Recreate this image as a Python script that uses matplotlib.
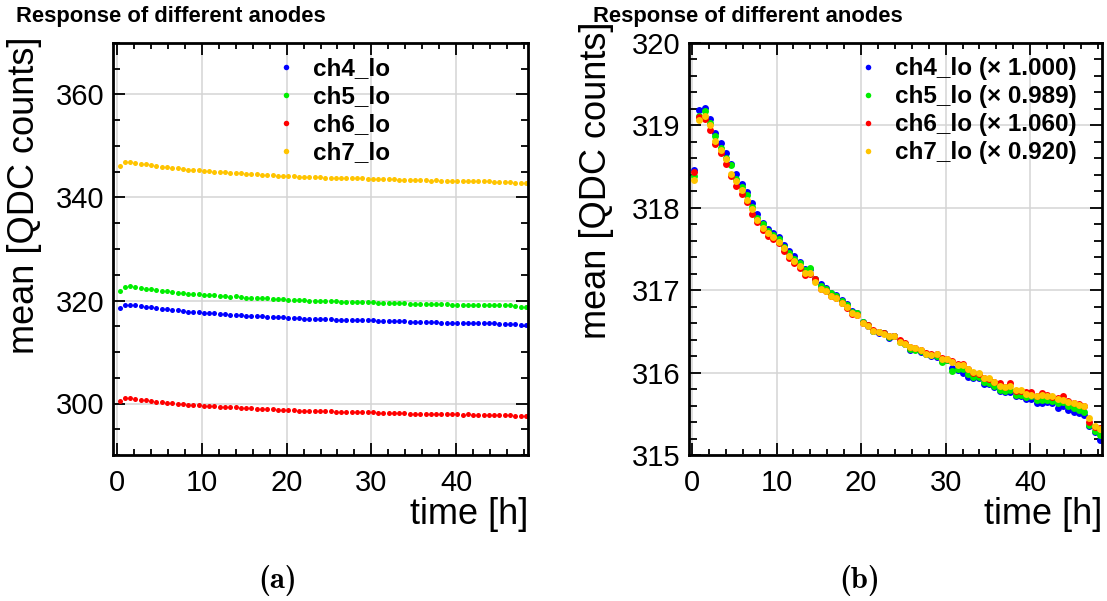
import matplotlib
matplotlib.use("Agg")
import numpy as np
import matplotlib.pyplot as plt
from matplotlib.ticker import MultipleLocator, FormatStrFormatter

plt.rcParams['font.family'] = ['Liberation Sans', 'DejaVu Sans']

# Run times [h]
time_h = [0.27, 0.89, 1.52, 2.14, 2.76, 3.39, 4.01, 4.63, 5.25, 5.88,
          6.50, 7.12, 7.75, 8.37, 8.99, 9.62, 10.24, 10.86, 11.48, 12.11,
          12.73, 13.35, 13.98, 14.60, 15.22, 15.85, 16.47, 17.09, 17.71, 18.34,
          18.96, 19.58, 20.21, 20.83, 21.45, 22.08, 22.70, 23.32, 23.94, 24.57,
          25.19, 25.81, 26.44, 27.06, 27.68, 28.31, 28.93, 29.55, 30.17, 30.80,
          31.42, 32.04, 32.67, 33.29, 33.91, 34.54, 35.16, 35.78, 36.40, 37.03,
          37.65, 38.27, 38.90, 39.52, 40.14, 40.77, 41.39, 42.01, 42.64, 43.26,
          43.88, 44.50, 45.13, 45.75, 46.37, 47.00, 47.62, 48.24]

channels = ["ch4_lo", "ch5_lo", "ch6_lo", "ch7_lo"]
gains = [1.000, 0.989, 1.060, 0.920]
colors = ["#0000ff", "#00ee00", "#ff0000", "#ffc400"]

# Mean QDC counts after gain equalisation (mean x gain)
ch4_scaled = [318.46, 319.19, 319.21, 319.08, 318.91, 318.79, 318.66, 318.53, 318.41, 318.29,
              318.19, 318.06, 317.92, 317.81, 317.74, 317.69, 317.64, 317.55, 317.48, 317.41,
              317.34, 317.26, 317.26, 317.13, 317.07, 317.03, 316.97, 316.94, 316.88, 316.83,
              316.75, 316.72, 316.62, 316.57, 316.51, 316.48, 316.48, 316.42, 316.44, 316.38,
              316.35, 316.28, 316.29, 316.25, 316.22, 316.20, 316.19, 316.14, 316.15, 316.05,
              316.03, 316.00, 315.95, 315.93, 315.93, 315.86, 315.86, 315.82, 315.78, 315.76,
              315.77, 315.71, 315.71, 315.68, 315.68, 315.63, 315.63, 315.64, 315.63, 315.57,
              315.60, 315.55, 315.52, 315.51, 315.49, 315.35, 315.28, 315.18]
ch5_scaled = [318.39, 319.12, 319.18, 319.03, 318.87, 318.73, 318.61, 318.52, 318.35, 318.25,
              318.16, 318.01, 317.88, 317.80, 317.72, 317.67, 317.62, 317.53, 317.45, 317.38,
              317.33, 317.24, 317.27, 317.13, 317.05, 317.02, 316.96, 316.93, 316.87, 316.82,
              316.74, 316.72, 316.61, 316.58, 316.51, 316.49, 316.48, 316.43, 316.44, 316.37,
              316.35, 316.29, 316.28, 316.26, 316.23, 316.21, 316.20, 316.13, 316.15, 316.02,
              316.04, 316.04, 315.98, 315.95, 315.95, 315.88, 315.87, 315.84, 315.79, 315.78,
              315.79, 315.73, 315.73, 315.70, 315.71, 315.67, 315.67, 315.67, 315.66, 315.63,
              315.64, 315.59, 315.57, 315.55, 315.52, 315.36, 315.29, 315.24]
ch6_scaled = [318.43, 319.10, 319.08, 318.95, 318.77, 318.66, 318.53, 318.39, 318.27, 318.17,
              318.07, 317.92, 317.83, 317.73, 317.66, 317.62, 317.57, 317.48, 317.39, 317.33,
              317.27, 317.19, 317.20, 317.13, 317.01, 316.99, 316.93, 316.90, 316.84, 316.79,
              316.71, 316.70, 316.60, 316.58, 316.52, 316.49, 316.48, 316.45, 316.44, 316.40,
              316.36, 316.31, 316.30, 316.27, 316.24, 316.22, 316.23, 316.18, 316.17, 316.14,
              316.10, 316.10, 316.04, 316.00, 315.98, 315.93, 315.92, 315.89, 315.87, 315.83,
              315.87, 315.78, 315.78, 315.77, 315.76, 315.71, 315.75, 315.73, 315.70, 315.69,
              315.72, 315.65, 315.63, 315.62, 315.59, 315.40, 315.34, 315.33]
ch7_scaled = [318.34, 319.06, 319.12, 319.00, 318.81, 318.70, 318.59, 318.41, 318.33, 318.21,
              318.10, 317.99, 317.85, 317.75, 317.69, 317.64, 317.59, 317.51, 317.42, 317.35,
              317.29, 317.21, 317.21, 317.10, 317.02, 316.99, 316.93, 316.90, 316.85, 316.80,
              316.72, 316.70, 316.60, 316.57, 316.51, 316.49, 316.47, 316.45, 316.44, 316.37,
              316.35, 316.31, 316.30, 316.27, 316.23, 316.21, 316.22, 316.17, 316.17, 316.13,
              316.09, 316.09, 316.04, 316.01, 316.00, 315.93, 315.93, 315.89, 315.84, 315.83,
              315.84, 315.79, 315.79, 315.74, 315.73, 315.72, 315.73, 315.72, 315.72, 315.68,
              315.67, 315.64, 315.63, 315.61, 315.60, 315.45, 315.35, 315.31]

scaled = [ch4_scaled, ch5_scaled, ch6_scaled, ch7_scaled]

W, H = 1107, 601
fig = plt.figure(figsize=(W / 100, H / 100), dpi=100)


def add_axes_px(left, top, right, bottom):
    return fig.add_axes([left / W, 1 - bottom / H, (right - left) / W, (bottom - top) / H])


def style_axes(ax, ymajor, yminor, yminor_len):
    ax.xaxis.set_major_locator(MultipleLocator(10))
    ax.xaxis.set_minor_locator(MultipleLocator(2))
    ax.yaxis.set_major_locator(MultipleLocator(ymajor))
    ax.yaxis.set_minor_locator(MultipleLocator(yminor))
    ax.xaxis.set_major_formatter(FormatStrFormatter('%d'))
    ax.yaxis.set_major_formatter(FormatStrFormatter('%d'))
    ax.tick_params(which='both', direction='in', top=True, right=True,
                   width=1.3, labelsize=21, color='black')
    ax.tick_params(which='major', length=8.6)
    ax.tick_params(axis='x', which='minor', length=4.5)
    ax.tick_params(axis='y', which='minor', length=yminor_len)
    ax.tick_params(axis='x', which='major', pad=10)
    ax.tick_params(axis='y', which='major', pad=6)
    ax.grid(True, which='major', color='#d4d4d4', linewidth=1.1)
    ax.set_axisbelow(True)
    for sp in ax.spines.values():
        sp.set_linewidth(2.0)
    ax.set_xlabel("time [h]", fontsize=26, loc='right')
    ax.set_ylabel("mean [QDC counts]", fontsize=26, loc='top')


legend_style = dict(loc='upper left', frameon=False,
                    prop={'weight': 'bold', 'size': 17.5}, handlelength=0.6,
                    handletextpad=0.8, labelspacing=0.21, borderpad=0,
                    borderaxespad=0)

# (a) raw channel means
axL = add_axes_px(113, 43, 528, 455)
for name, vals, g, c in zip(channels, scaled, gains, colors):
    raw = np.array(vals) / g
    axL.plot(time_h, raw, linestyle='none', marker='o', markersize=3.6,
             markeredgewidth=0, color=c, label=name)
axL.set_xlim(-0.5, 48.5)
axL.set_ylim(290, 370)
style_axes(axL, 20, 5, 4.7)
axL.xaxis.set_label_coords(1.0, -0.103)
axL.yaxis.set_label_coords(-0.171, 1.015)
axL.legend(bbox_to_anchor=(0.399, 0.966), markerscale=1.1, **legend_style)

# (b) gain-equalised channel means
axR = add_axes_px(689, 43, 1102, 455)
for name, vals, g, c in zip(channels, scaled, gains, colors):
    axR.plot(time_h, vals, linestyle='none', marker='o', markersize=5.0,
             markeredgewidth=0, color=c,
             label=f"{name} (\u00d7 {g:.3f})")
axR.set_xlim(-0.35, 48.5)
axR.set_ylim(315, 320)
style_axes(axR, 1, 0.2, 5.8)
axR.xaxis.set_label_coords(1.0, -0.103)
axR.yaxis.set_label_coords(-0.182, 1.052)
axR.legend(bbox_to_anchor=(0.416, 0.966), markerscale=0.8, **legend_style)

# Panel titles and captions
for x in (16, 593):
    fig.text(x / W, 1 - 22 / H, "Response of different anodes",
             fontsize=15.8, fontweight='bold', va='baseline', ha='left')
fig.text(278 / W, 1 - 580 / H, "(a)", family='cmb10', fontsize=22,
         ha='center', va='center')
fig.text(860 / W, 1 - 580 / H, "(b)", family='cmb10', fontsize=22,
         ha='center', va='center')

fig.savefig("out.png", dpi=100)
